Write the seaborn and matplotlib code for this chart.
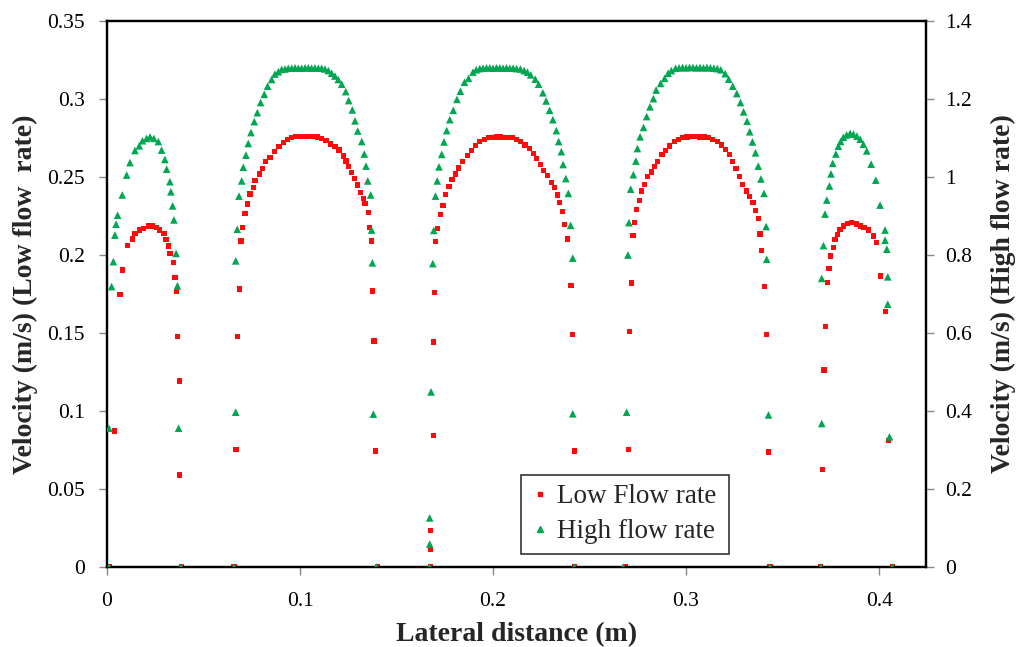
import matplotlib
matplotlib.use("Agg")
import matplotlib.pyplot as plt
import seaborn as sns
import numpy as np
import pandas as pd
from matplotlib.lines import Line2D

# ---------------- data ----------------
# Low flow rate (left axis, m/s)
low_x_c1 = [0.0010, 0.0041, 0.0067, 0.0081, 0.0105, 0.0131, 0.0145, 0.0167, 0.0188, 0.0214, 0.0236,
            0.0257, 0.0274, 0.0295, 0.0306, 0.0318, 0.0326, 0.0344, 0.0352, 0.0361, 0.0367, 0.0375,
            0.0375, 0.0385]
low_v_c1 = [0.0, 0.0872, 0.1748, 0.1904, 0.2062, 0.2103, 0.2139, 0.2160, 0.2171, 0.2186, 0.2186,
            0.2177, 0.2160, 0.2139, 0.2100, 0.2058, 0.2010, 0.1950, 0.1855, 0.1765, 0.1476, 0.1192,
            0.0590, 0.0]

low_x_c2 = [0.0658, 0.0668, 0.0677, 0.0686, 0.0694, 0.0701, 0.0715, 0.0727, 0.0741, 0.0758, 0.0767,
            0.0789, 0.0805, 0.0822, 0.0845, 0.0867, 0.0891, 0.0914, 0.0936, 0.0957, 0.0979, 0.1001,
            0.1023, 0.1045, 0.1067, 0.1089, 0.1112, 0.1135, 0.1159, 0.1181, 0.1202, 0.1225, 0.1238,
            0.1251, 0.1268, 0.1281, 0.1297, 0.1314, 0.1328, 0.1337, 0.1354, 0.1359, 0.1371, 0.1377,
            0.1383, 0.1392, 0.1400]
low_v_c2 = [0.0, 0.0754, 0.1476, 0.1782, 0.2090, 0.2177, 0.2267, 0.2327, 0.2391, 0.2434, 0.2480,
            0.2520, 0.2556, 0.2598, 0.2626, 0.2662, 0.2694, 0.2720, 0.2742, 0.2755, 0.2758, 0.2760,
            0.2761, 0.2761, 0.2760, 0.2756, 0.2748, 0.2733, 0.2712, 0.2694, 0.2673, 0.2635, 0.2603,
            0.2566, 0.2528, 0.2492, 0.2449, 0.2400, 0.2364, 0.2331, 0.2274, 0.2175, 0.2090, 0.1769,
            0.1449, 0.0744, 0.0]

low_x_c3 = [0.1674, 0.1678, 0.1678, 0.1690, 0.1690, 0.1697, 0.1702, 0.1714, 0.1728, 0.1741, 0.1755,
            0.1772, 0.1787, 0.1804, 0.1822, 0.1843, 0.1866, 0.1887, 0.1908, 0.1931, 0.1954, 0.1975,
            0.1996, 0.2016, 0.2037, 0.2058, 0.2078, 0.2098, 0.2120, 0.2142, 0.2166, 0.2187, 0.2208,
            0.2226, 0.2245, 0.2263, 0.2284, 0.2302, 0.2319, 0.2333, 0.2346, 0.2360, 0.2372, 0.2386,
            0.2404, 0.2413, 0.2421, 0.2421]
low_v_c3 = [0.0, 0.0113, 0.0232, 0.0841, 0.1442, 0.1760, 0.2085, 0.2172, 0.2259, 0.2320, 0.2389,
            0.2439, 0.2482, 0.2519, 0.2558, 0.2601, 0.2638, 0.2671, 0.2703, 0.2727, 0.2742, 0.2752,
            0.2755, 0.2756, 0.2756, 0.2755, 0.2754, 0.2752, 0.2742, 0.2727, 0.2705, 0.2684, 0.2649,
            0.2619, 0.2580, 0.2543, 0.2508, 0.2467, 0.2432, 0.2385, 0.2337, 0.2281, 0.2194, 0.2103,
            0.1804, 0.1489, 0.0744, 0.0]

low_x_c4 = [0.2685, 0.2700, 0.2709, 0.2716, 0.2725, 0.2734, 0.2743, 0.2757, 0.2771, 0.2784, 0.2801,
            0.2819, 0.2836, 0.2854, 0.2875, 0.2893, 0.2916, 0.2939, 0.2960, 0.2983, 0.3005, 0.3027,
            0.3049, 0.3071, 0.3093, 0.3115, 0.3139, 0.3162, 0.3185, 0.3206, 0.3224, 0.3242, 0.3259,
            0.3277, 0.3291, 0.3312, 0.3330, 0.3347, 0.3361, 0.3374, 0.3383, 0.3392, 0.3406, 0.3415,
            0.3427, 0.3435]
low_v_c4 = [0.0, 0.0752, 0.1511, 0.1821, 0.2124, 0.2211, 0.2294, 0.2352, 0.2411, 0.2454, 0.2504,
            0.2532, 0.2569, 0.2601, 0.2645, 0.2671, 0.2699, 0.2727, 0.2742, 0.2755, 0.2757, 0.2758,
            0.2758, 0.2757, 0.2756, 0.2754, 0.2742, 0.2727, 0.2705, 0.2677, 0.2645, 0.2601, 0.2554,
            0.2504, 0.2454, 0.2411, 0.2374, 0.2335, 0.2287, 0.2233, 0.2135, 0.2027, 0.1799, 0.1489,
            0.0737, 0.0]

low_x_c5 = [0.3698, 0.3706, 0.3715, 0.3724, 0.3732, 0.3741, 0.3750, 0.3764, 0.3772, 0.3786, 0.3798,
            0.3815, 0.3836, 0.3859, 0.3881, 0.3902, 0.3922, 0.3945, 0.3971, 0.3985, 0.4009, 0.4035,
            0.4048, 0.4070]
low_v_c5 = [0.0, 0.0626, 0.1263, 0.1540, 0.1823, 0.1915, 0.1994, 0.2047, 0.2101, 0.2133, 0.2165,
            0.2186, 0.2203, 0.2210, 0.2199, 0.2186, 0.2175, 0.2160, 0.2122, 0.2081, 0.1865, 0.1637,
            0.0810, 0.0]

# High flow rate (right axis, m/s)
high_x_c1 = [0.0010, 0.0010, 0.0024, 0.0033, 0.0041, 0.0047, 0.0055, 0.0079, 0.0102, 0.0119, 0.0145,
             0.0167, 0.0184, 0.0205, 0.0223, 0.0243, 0.0266, 0.0283, 0.0300, 0.0309, 0.0326, 0.0331,
             0.0340, 0.0347, 0.0358, 0.0365, 0.0371, 0.0383]
high_v_c1 = [0.0, 0.356, 0.719, 0.783, 0.851, 0.879, 0.902, 0.954, 1.005, 1.037, 1.068,
             1.080, 1.093, 1.099, 1.103, 1.099, 1.091, 1.069, 1.045, 1.020, 0.988, 0.962,
             0.926, 0.890, 0.804, 0.721, 0.356, 0.0]

high_x_c2 = [0.0658, 0.0667, 0.0667, 0.0675, 0.0684, 0.0698, 0.0706, 0.0720, 0.0732, 0.0746, 0.0763,
             0.0779, 0.0796, 0.0815, 0.0832, 0.0853, 0.0870, 0.0888, 0.0905, 0.0922, 0.0939, 0.0957,
             0.0974, 0.0991, 0.1008, 0.1026, 0.1043, 0.1060, 0.1077, 0.1095, 0.1112, 0.1129, 0.1147,
             0.1164, 0.1181, 0.1198, 0.1216, 0.1237, 0.1252, 0.1271, 0.1285, 0.1299, 0.1320, 0.1333,
             0.1342, 0.1351, 0.1366, 0.1371, 0.1375, 0.1380, 0.1395]
high_v_c2 = [0.0, 0.397, 0.785, 0.866, 0.951, 0.990, 1.025, 1.056, 1.086, 1.114, 1.142,
             1.165, 1.191, 1.212, 1.233, 1.250, 1.264, 1.270, 1.276, 1.277, 1.279, 1.279,
             1.280, 1.279, 1.279, 1.280, 1.280, 1.279, 1.280, 1.279, 1.279, 1.277, 1.273,
             1.266, 1.259, 1.250, 1.238, 1.219, 1.196, 1.172, 1.144, 1.118, 1.091, 1.059,
             1.028, 0.990, 0.954, 0.864, 0.780, 0.392, 0.0]

high_x_c3 = [0.1672, 0.1672, 0.1672, 0.1679, 0.1688, 0.1693, 0.1702, 0.1711, 0.1720, 0.1734, 0.1746,
             0.1760, 0.1776, 0.1794, 0.1813, 0.1831, 0.1852, 0.1873, 0.1896, 0.1913, 0.1931, 0.1948,
             0.1966, 0.1983, 0.2000, 0.2018, 0.2035, 0.2052, 0.2070, 0.2087, 0.2104, 0.2122, 0.2142,
             0.2161, 0.2178, 0.2195, 0.2219, 0.2236, 0.2258, 0.2275, 0.2293, 0.2310, 0.2328, 0.2340,
             0.2354, 0.2363, 0.2377, 0.2390, 0.2402, 0.2413, 0.2413, 0.2421]
high_v_c3 = [0.0, 0.059, 0.126, 0.449, 0.778, 0.863, 0.951, 0.990, 1.026, 1.058, 1.090,
             1.119, 1.147, 1.171, 1.199, 1.220, 1.243, 1.253, 1.269, 1.275, 1.278, 1.279,
             1.280, 1.280, 1.279, 1.280, 1.280, 1.279, 1.280, 1.279, 1.279, 1.278, 1.277,
             1.273, 1.269, 1.262, 1.251, 1.238, 1.216, 1.195, 1.171, 1.147, 1.119, 1.091,
             1.065, 1.032, 0.996, 0.958, 0.876, 0.792, 0.393, 0.0]

high_x_c4 = [0.2674, 0.2692, 0.2699, 0.2704, 0.2713, 0.2727, 0.2740, 0.2748, 0.2762, 0.2780, 0.2796,
             0.2813, 0.2831, 0.2845, 0.2868, 0.2889, 0.2907, 0.2924, 0.2946, 0.2964, 0.2982, 0.3000,
             0.3018, 0.3036, 0.3054, 0.3072, 0.3090, 0.3108, 0.3126, 0.3144, 0.3162, 0.3180, 0.3203,
             0.3221, 0.3242, 0.3263, 0.3282, 0.3298, 0.3316, 0.3330, 0.3344, 0.3360, 0.3374, 0.3388,
             0.3404, 0.3415, 0.3418, 0.3427, 0.3435]
high_v_c4 = [0.0, 0.397, 0.800, 0.883, 0.969, 1.006, 1.041, 1.073, 1.103, 1.127, 1.155,
             1.180, 1.201, 1.223, 1.240, 1.253, 1.266, 1.273, 1.279, 1.280, 1.281, 1.280,
             1.281, 1.281, 1.280, 1.281, 1.280, 1.281, 1.280, 1.279, 1.278, 1.275, 1.265,
             1.251, 1.233, 1.214, 1.191, 1.167, 1.143, 1.116, 1.090, 1.062, 1.028, 0.995,
             0.958, 0.873, 0.789, 0.390, 0.0]

high_x_c5 = [0.3698, 0.3703, 0.3703, 0.3712, 0.3720, 0.3729, 0.3743, 0.3751, 0.3760, 0.3776, 0.3789,
             0.3801, 0.3815, 0.3832, 0.3850, 0.3867, 0.3885, 0.3902, 0.3919, 0.3936, 0.3959, 0.3983,
             0.4005, 0.4031, 0.4031, 0.4040, 0.4045, 0.4045, 0.4054, 0.4068]
high_v_c5 = [0.0, 0.368, 0.740, 0.824, 0.905, 0.941, 0.977, 1.008, 1.035, 1.059, 1.079,
             1.091, 1.102, 1.108, 1.112, 1.110, 1.105, 1.097, 1.084, 1.067, 1.033, 0.992,
             0.928, 0.864, 0.838, 0.815, 0.744, 0.674, 0.334, 0.0]

series_names = ["Low Flow rate", "High flow rate"]
x_ticks = [0, 0.1, 0.2, 0.3, 0.4]
x_tick_labels = ["0", "0.1", "0.2", "0.3", "0.4"]
left_ticks = [0, 0.05, 0.1, 0.15, 0.2, 0.25, 0.3, 0.35]
left_tick_labels = ["0", "0.05", "0.1", "0.15", "0.2", "0.25", "0.3", "0.35"]
right_ticks = [0, 0.2, 0.4, 0.6, 0.8, 1.0, 1.2, 1.4]
right_tick_labels = ["0", "0.2", "0.4", "0.6", "0.8", "1", "1.2", "1.4"]

low_df = pd.DataFrame({
    "x": low_x_c1 + low_x_c2 + low_x_c3 + low_x_c4 + low_x_c5,
    "v": low_v_c1 + low_v_c2 + low_v_c3 + low_v_c4 + low_v_c5,
})
high_df = pd.DataFrame({
    "x": high_x_c1 + high_x_c2 + high_x_c3 + high_x_c4 + high_x_c5,
    "v": high_v_c1 + high_v_c2 + high_v_c3 + high_v_c4 + high_v_c5,
})

# ---------------- style ----------------
sns.set_style("white")
plt.rcParams["font.family"] = ["Liberation Serif", "DejaVu Serif"]

RED = "#ff0a0a"
GREEN = "#00a651"

fig = plt.figure(figsize=(10.16, 6.47), dpi=100)
ax = fig.add_axes([0.1053, 0.1236, 0.8061, 0.8439])
ax2 = ax.twinx()

sns.scatterplot(data=high_df, x="x", y="v", ax=ax2, marker="^", s=30, color=GREEN,
                edgecolor="none", linewidth=0, zorder=3)
sns.scatterplot(data=low_df, x="x", y="v", ax=ax, marker="s", s=14, color=RED,
                edgecolor="none", linewidth=0, zorder=3)

ax.set_xlim(0, 0.4243)
ax.set_ylim(0, 0.35)
ax2.set_ylim(0, 1.4)
ax.set_xticks(x_ticks)
ax.set_xticklabels(x_tick_labels)
ax.set_yticks(left_ticks)
ax.set_yticklabels(left_tick_labels)
ax2.set_yticks(right_ticks)
ax2.set_yticklabels(right_tick_labels)

for a in (ax, ax2):
    for sp in a.spines.values():
        sp.set_visible(True)
        sp.set_color("black")
        sp.set_linewidth(1.6)
    a.tick_params(axis="both", which="major", labelsize=15.5, length=6, width=1,
                  color="#888888", labelcolor="black")
ax.tick_params(axis="x", direction="out", bottom=True, pad=12)
ax.tick_params(axis="y", direction="out", left=True, pad=10)
ax2.tick_params(axis="y", direction="out", right=True, pad=8)

ax.set_xlabel("Lateral distance (m)", fontsize=20, fontweight="bold", va="center")
ax.xaxis.set_label_coords(0.5, -0.124)
ax.set_ylabel("Velocity (m/s) (Low flow  rate)", fontsize=20, fontweight="bold",
              va="center", ha="center")
ax.yaxis.set_label_coords(-0.100, 0.5)
ax2.set_ylabel("Velocity (m/s) (High flow rate)", fontsize=20, fontweight="bold",
               rotation=90, va="center", ha="center")
ax2.yaxis.set_label_coords(1.094, 0.5)

handles = [
    Line2D([], [], linestyle="none", marker="s", markersize=3.5, color=RED),
    Line2D([], [], linestyle="none", marker="^", markersize=4.5, color=GREEN),
]
leg = ax2.legend(handles, series_names, loc="lower left",
                 bbox_to_anchor=(0.505, 0.024, 0.2545, 0.15), mode="expand",
                 fontsize=19.5, frameon=True, fancybox=False, borderpad=0.36,
                 handlelength=0.7, handletextpad=0.3, labelspacing=0.36,
                 borderaxespad=0)
leg.get_frame().set_edgecolor("black")
leg.get_frame().set_linewidth(1.2)

fig.savefig("out.png", dpi=100)
